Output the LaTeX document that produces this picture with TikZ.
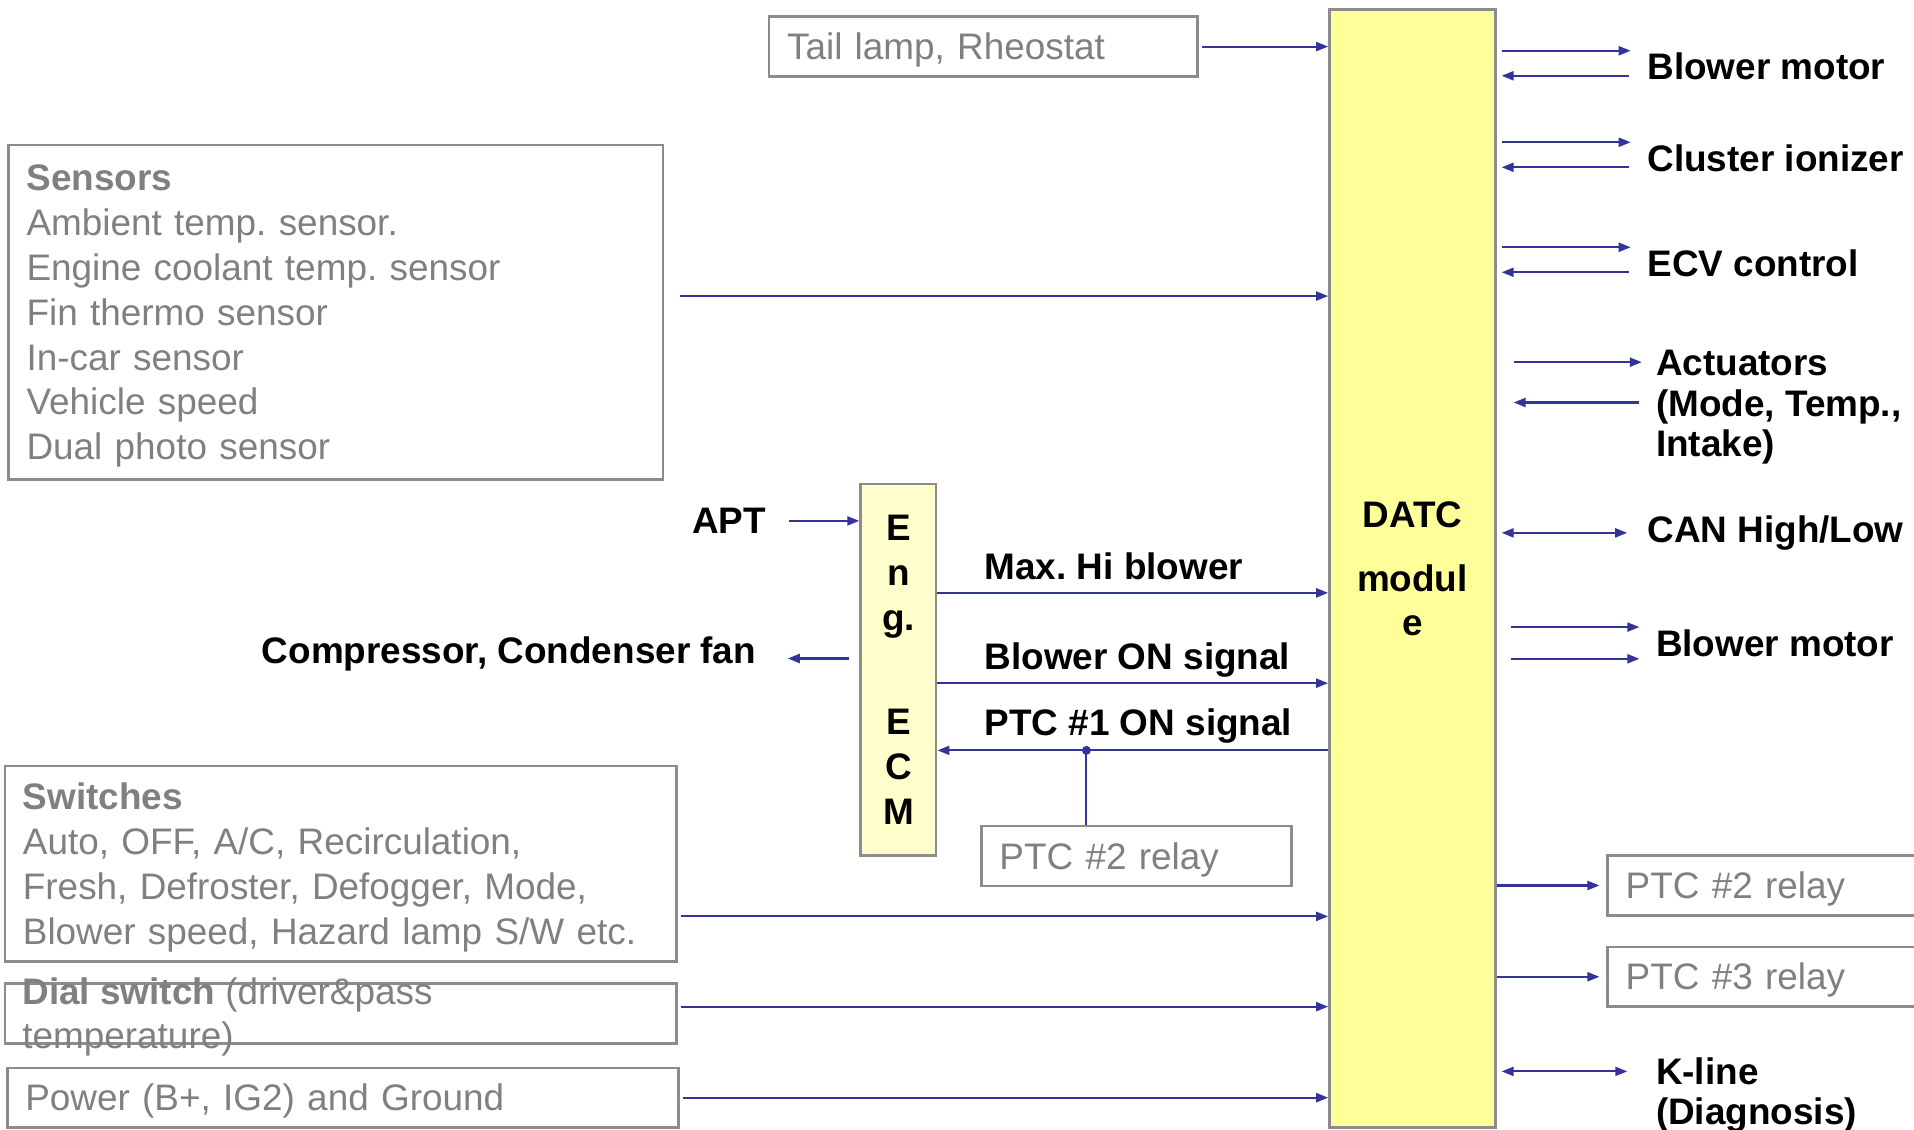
\documentclass[tikz,border=0pt]{standalone}
\usepackage{fontspec}
\setmainfont{Liberation Sans}
\usetikzlibrary{arrows.meta,calc}
\definecolor{arrowblue}{HTML}{333399}
\definecolor{boxgray}{HTML}{8C8C8C}
\definecolor{graytext}{HTML}{808080}
\definecolor{datcyellow}{HTML}{FFFF99}
\definecolor{ecmyellow}{HTML}{FFFFCC}

\begin{document}
\frenchspacing
\begin{tikzpicture}[>={Triangle[length=1.2mm,width=0.9mm]},
  inbox/.style={draw=boxgray,line width=0.7pt,text=graytext,align=left,
    inner xsep=0.18cm,inner ysep=0pt,font=\fontsize{10.5}{12.75}\selectfont,
    execute at begin node={\rule{0pt}{9.7pt}}},
  sig/.style={inner sep=0pt,align=left,font=\fontsize{10.5}{11.4}\selectfont\bfseries},
  arr/.style={->,line width=0.6pt,arrowblue},
  dbl/.style={<->,line width=0.6pt,arrowblue}]

\useasboundingbox (0,0) rectangle (19.14,11.30);
\clip (0,0) rectangle (19.14,11.30);

% controllers
\node[draw=boxgray,line width=0.7pt,fill=datcyellow,minimum width=1.66cm,
  minimum height=11.18cm,inner sep=0pt,align=center,
  font=\fontsize{10.5}{12.5}\selectfont\bfseries] (datc) at (14.124,5.615)
  {DATC\\[5.8pt]modul\\e};
\node[draw=boxgray,line width=0.7pt,fill=ecmyellow,minimum width=0.757cm,
  minimum height=3.711cm,inner sep=0pt,align=center,
  font=\fontsize{10.5}{12.8}\selectfont\bfseries] (ecm) at (8.984,4.602)
  {E\\n\\g.\\[17pt]E\\C\\M};

% inputs
\node[inbox,text width=3.925cm,minimum height=0.598cm] (tail) at (9.833,10.834) {Tail lamp, Rheostat};
\node[inbox,text width=6.183cm,minimum height=3.345cm] (sensors) at (3.357,8.179)
  {\textbf{Sensors}\\Ambient temp. sensor.\\Engine coolant temp. sensor\\Fin thermo sensor\\In-car sensor\\Vehicle speed\\Dual photo sensor};
\node[inbox,text width=6.354cm,minimum height=1.953cm] (switches) at (3.406,2.661)
  {\textbf{Switches}\\Auto, OFF, A/C, Recirculation,\\Fresh, Defroster, Defogger, Mode,\\Blower speed, Hazard lamp S/W etc.};
\node[inbox,minimum width=6.714cm,minimum height=0.598cm] (dial) at (3.406,1.166) {};
\node[anchor=west,inner sep=0pt,text=graytext,align=left,
  font=\fontsize{10.5}{12.75}\selectfont] (dialtxt) at ([xshift=0.18cm,yshift=-0.035cm]dial.west)
  {\textbf{Dial switch} (driver\&pass\\temperature)};
\node[inbox,text width=6.354cm,minimum height=0.598cm] (power) at (3.430,0.323) {Power (B+, IG2) and Ground};

\node[sig,anchor=east] (apt) at (7.666,6.091) {APT};
\node[sig,anchor=east] (comp) at (7.568,4.760) {Compressor, Condenser fan};
\node[sig,anchor=west] (maxhi) at (9.839,5.640) {Max. Hi blower};
\node[sig,anchor=west] (blowon) at (9.839,4.701) {Blower ON signal};
\node[sig,anchor=west] (ptcone) at (9.839,4.042) {PTC \#1 ON signal};
\node[inbox,text width=2.741cm,minimum height=0.598cm] (ptcmid) at (11.365,2.740) {PTC \#2 relay};

% outputs
\node[sig,anchor=west] (blowA) at (16.467,10.632) {Blower motor};
\node[sig,anchor=west] (ioniz) at (16.467,9.717) {Cluster ionizer};
\node[sig,anchor=west] (ecv) at (16.467,8.667) {ECV control};
\node[sig,anchor=west] (actu) at (16.553,7.228) {Actuators\\(Mode, Temp.,\\Intake)};
\node[sig,anchor=west] (can) at (16.467,5.971) {CAN High/Low};
\node[sig,anchor=west] (blowB) at (16.553,4.871) {Blower motor};
\node[inbox,text width=2.94cm,minimum height=0.598cm] (ptcB) at (17.727,2.445) {PTC \#2 relay};
\node[inbox,text width=2.94cm,minimum height=0.598cm] (ptcC) at (17.727,1.532) {PTC \#3 relay};
\node[sig,anchor=west] (kline) at (16.553,0.350) {K-line\\(Diagnosis)};

% input lines
\draw[arr,shorten <=0.03cm] (tail.east) -- (tail.east -| datc.west);
\draw[arr,shorten <=0.16cm] ([yshift=0.16cm]sensors.east) -- ([yshift=0.16cm]sensors.east -| datc.west);
\draw[arr,shorten <=0.03cm] ([yshift=-0.525cm]switches.east) -- ([yshift=-0.525cm]switches.east -| datc.west);
\draw[arr,shorten <=0.03cm] ([yshift=0.067cm]dial.east) -- ([yshift=0.067cm]dial.east -| datc.west);
\draw[arr,shorten <=0.03cm] (power.east) -- (power.east -| datc.west);

% engine ECM
\draw[arr,shorten <=0.22cm] (apt.east) -- (apt.east -| ecm.west);
\draw[arr,shorten <=0.1cm,shorten >=0.31cm] ([yshift=-0.045cm]comp.east -| ecm.west) -- ([yshift=-0.045cm]comp.east);
\draw[arr] ([yshift=0.769cm]ecm.east) -- ([yshift=0.769cm]ecm.east -| datc.west);
\draw[arr] ([yshift=-0.134cm]ecm.east) -- ([yshift=-0.134cm]ecm.east -| datc.west);
\coordinate (tap) at (10.864,3.796);
\draw[arr] (datc.west |- tap) -- (ecm.east |- tap);
\draw[arrowblue,line width=0.6pt] (tap) -- (tap |- ptcmid.north);
\fill[arrowblue] (tap) circle (0.045);

% output lines
\draw[arr,shorten <=0.05cm,shorten >=0.16cm] ([yshift=0.16cm]blowA.west -| datc.east) -- ([yshift=0.16cm]blowA.west);
\draw[arr,shorten <=0.18cm,shorten >=0.05cm] ([yshift=-0.09cm]blowA.west) -- ([yshift=-0.09cm]blowA.west -| datc.east);
\draw[arr,shorten <=0.05cm,shorten >=0.16cm] ([yshift=0.16cm]ioniz.west -| datc.east) -- ([yshift=0.16cm]ioniz.west);
\draw[arr,shorten <=0.18cm,shorten >=0.05cm] ([yshift=-0.09cm]ioniz.west) -- ([yshift=-0.09cm]ioniz.west -| datc.east);
\draw[arr,shorten <=0.05cm,shorten >=0.16cm] ([yshift=0.16cm]ecv.west -| datc.east) -- ([yshift=0.16cm]ecv.west);
\draw[arr,shorten <=0.18cm,shorten >=0.05cm] ([yshift=-0.09cm]ecv.west) -- ([yshift=-0.09cm]ecv.west -| datc.east);
\draw[arr,shorten <=0.17cm,shorten >=0.135cm] ([yshift=0.45cm]actu.west -| datc.east) -- ([yshift=0.45cm]actu.west);
\draw[arr,shorten <=0.16cm,shorten >=0.17cm] ([yshift=0.047cm]actu.west) -- ([yshift=0.047cm]actu.west -| datc.east);
\draw[dbl,shorten <=0.05cm,shorten >=0.195cm] (can.west -| datc.east) -- (can.west);
\draw[arr,shorten <=0.146cm,shorten >=0.159cm] ([yshift=0.158cm]blowB.west -| datc.east) -- ([yshift=0.158cm]blowB.west);
\draw[arr,shorten <=0.146cm,shorten >=0.159cm] ([yshift=-0.159cm]blowB.west -| datc.east) -- ([yshift=-0.159cm]blowB.west);
\draw[arr,shorten >=0.07cm] (datc.east |- ptcB.west) -- (ptcB.west);
\draw[arr,shorten >=0.07cm] (datc.east |- ptcC.west) -- (ptcC.west);
\draw[dbl,shorten <=0.05cm,shorten >=0.28cm] ([yshift=0.236cm]kline.west -| datc.east) -- ([yshift=0.236cm]kline.west);
\end{tikzpicture}
\end{document}
